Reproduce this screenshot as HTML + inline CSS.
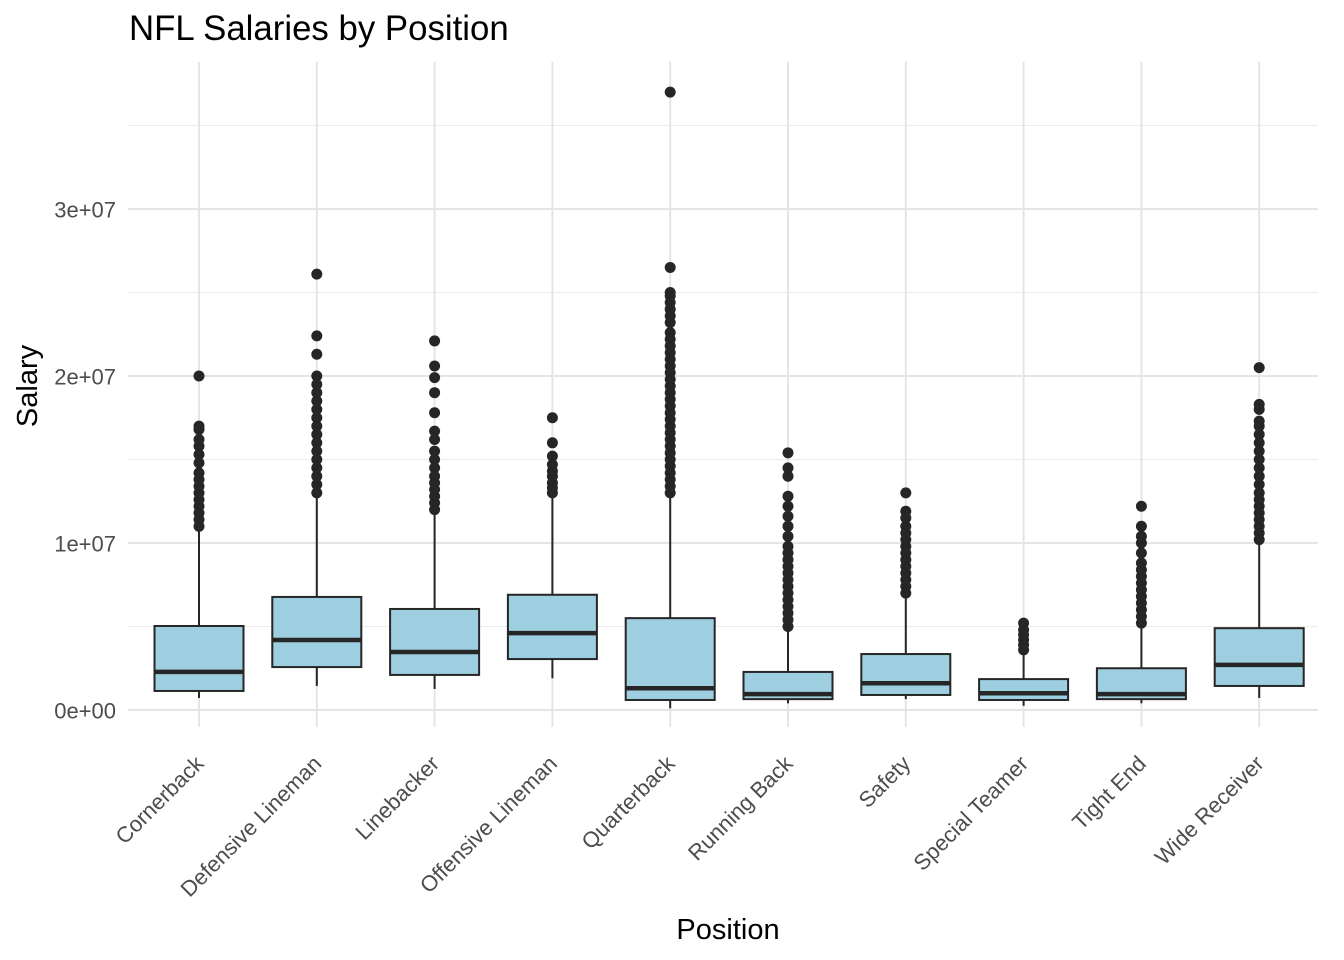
<!DOCTYPE html>
<html><head><meta charset="utf-8"><style>
html,body{margin:0;padding:0;background:#fff}
svg{display:block;font-family:"Liberation Sans",Arial,sans-serif}
</style></head><body>
<svg id="chart" width="1344" height="960">
<text x="129" y="40" font-size="34.8" fill="#000">NFL Salaries by Position</text>
<text x="728" y="939" font-size="29" text-anchor="middle" fill="#000">Position</text>
<text transform="translate(37,386) rotate(-90)" font-size="29" text-anchor="middle" fill="#000">Salary</text>
<g id="grid"></g><g id="marks"></g><g id="labels"></g>
</svg>
<script>
const categories=["Cornerback","Defensive Lineman","Linebacker","Offensive Lineman","Quarterback","Running Back","Safety","Special Teamer","Tight End","Wide Receiver"];
const lowWhisker=[0.72e6,1.44e6,1.26e6,1.9e6,0.1e6,0.4e6,0.65e6,0.25e6,0.4e6,0.72e6];
const q1=[1.14e6,2.57e6,2.1e6,3.05e6,0.6e6,0.65e6,0.9e6,0.6e6,0.65e6,1.44e6];
const medians=[2.28e6,4.19e6,3.47e6,4.6e6,1.3e6,0.95e6,1.6e6,1.0e6,0.95e6,2.7e6];
const q3=[5.03e6,6.77e6,6.05e6,6.9e6,5.5e6,2.28e6,3.35e6,1.85e6,2.5e6,4.9e6];
const highWhisker=[10.9e6,12.9e6,11.9e6,12.7e6,12.9e6,4.8e6,6.9e6,3.4e6,5.0e6,10.0e6];
const outliers=[
[11e6,11.4e6,11.8e6,12.2e6,12.6e6,13e6,13.4e6,13.8e6,14.2e6,14.8e6,15.3e6,15.8e6,16.2e6,16.8e6,17e6,20e6],
[13e6,13.5e6,14e6,14.5e6,15e6,15.5e6,16e6,16.5e6,17e6,17.5e6,18e6,18.5e6,19e6,19.5e6,20e6,21.3e6,22.4e6,26.1e6],
[12e6,12.4e6,12.8e6,13.2e6,13.6e6,14e6,14.5e6,15e6,15.5e6,16.2e6,16.7e6,17.8e6,19e6,19.9e6,20.6e6,22.1e6],
[13e6,13.3e6,13.6e6,14e6,14.3e6,14.7e6,15.2e6,16e6,17.5e6],
[13e6,13.4e6,13.8e6,14.2e6,14.6e6,15e6,15.4e6,15.8e6,16.2e6,16.6e6,17e6,17.4e6,17.8e6,18.2e6,18.6e6,19e6,19.4e6,19.8e6,20.2e6,20.6e6,21e6,21.4e6,21.8e6,22.2e6,22.6e6,23.2e6,23.6e6,24e6,24.4e6,24.8e6,25e6,26.5e6,37e6],
[5e6,5.4e6,5.8e6,6.2e6,6.6e6,7e6,7.4e6,7.8e6,8.2e6,8.6e6,9e6,9.4e6,9.8e6,10.4e6,11e6,11.6e6,12.2e6,12.8e6,14e6,14.5e6,15.4e6],
[7e6,7.4e6,7.8e6,8.2e6,8.6e6,9e6,9.4e6,9.8e6,10.2e6,10.6e6,11e6,11.5e6,11.9e6,13e6],
[3.6e6,3.9e6,4.2e6,4.5e6,4.8e6,5.2e6],
[5.2e6,5.6e6,6e6,6.4e6,6.8e6,7.2e6,7.6e6,8e6,8.4e6,8.8e6,9.4e6,10e6,10.4e6,11e6,12.2e6],
[10.2e6,10.6e6,11e6,11.4e6,11.8e6,12.2e6,12.6e6,13e6,13.5e6,14e6,14.5e6,15e6,15.5e6,16e6,16.5e6,17e6,17.3e6,18e6,18.3e6,20.5e6]
];
const yTicks=[0,1e7,2e7,3e7];
const yTickLabels=["0e+00","1e+07","2e+07","3e+07"];
const yMinor=[0.5e7,1.5e7,2.5e7,3.5e7];

const NS="http://www.w3.org/2000/svg";
const L=128,R=1318,T=62,B=727;
const yScale=v=>710-v/1e7*167;
const step=117.8;
const xScale=i=>199+step*i;
const bw=89;
function mk(tag,attrs,parent){const e=document.createElementNS(NS,tag);for(const k in attrs)e.setAttribute(k,attrs[k]);parent.appendChild(e);return e;}
const grid=document.getElementById('grid'),marks=document.getElementById('marks'),labels=document.getElementById('labels');
yMinor.forEach(v=>{const l=mk('line',{x1:L,x2:R,y1:yScale(v),y2:yScale(v),stroke:'#ebebeb','stroke-width':1},grid);

});
yTicks.forEach((v,i)=>{const l=mk('line',{x1:L,x2:R,y1:yScale(v),y2:yScale(v),stroke:'#e5e5e5','stroke-width':2},grid);


const t=mk('text',{x:116,y:yScale(v)+8.5,'text-anchor':'end','font-size':22,fill:'#4d4d4d'},labels);t.textContent=yTickLabels[i];

});
categories.forEach((c,i)=>{const x=xScale(i);
const g=mk('line',{x1:x,x2:x,y1:T,y2:B,stroke:'#e5e5e5','stroke-width':2},grid);


const grp=mk('g',{},marks);


mk('line',{x1:x,x2:x,y1:yScale(highWhisker[i]),y2:yScale(q3[i]),stroke:'#262626','stroke-width':2},grp);
mk('line',{x1:x,x2:x,y1:yScale(q1[i]),y2:yScale(lowWhisker[i]),stroke:'#262626','stroke-width':2},grp);
mk('rect',{x:x-bw/2,y:yScale(q3[i]),width:bw,height:yScale(q1[i])-yScale(q3[i]),fill:'#9ecfe0',stroke:'#262626','stroke-width':2},grp);
mk('line',{x1:x-bw/2,x2:x+bw/2,y1:yScale(medians[i]),y2:yScale(medians[i]),stroke:'#262626','stroke-width':4.5},grp);
outliers[i].forEach(v=>{const p=mk('circle',{cx:x,cy:yScale(v),r:5.5,fill:'#262626'},grp);

});
const t=mk('text',{transform:`translate(${x+6},${765}) rotate(-45)`,'text-anchor':'end','font-size':22,fill:'#4d4d4d'},labels);t.textContent=c;

});
</script>
</body></html>
